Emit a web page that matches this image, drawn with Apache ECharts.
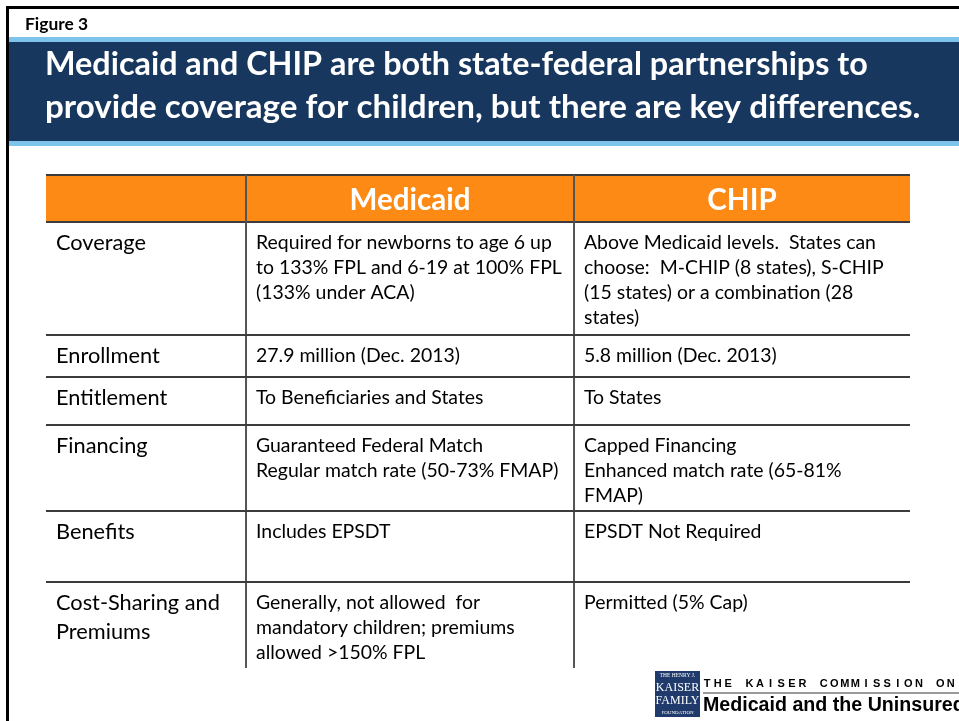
<!DOCTYPE html>
<html>
<head>
<meta charset="utf-8">
<script src="https://cdn.jsdelivr.net/npm/echarts@6/dist/echarts.min.js"></script>
<style>
  html, body { margin: 0; padding: 0; background: #fff; }
  #main { width: 959px; height: 721px; }
</style>
</head>
<body>
<div id="main"></div>
<script>
// slide text
const figureLabel = 'Figure 3';
const titleLines = [
  'Medicaid and CHIP are both state-federal partnerships to',
  'provide coverage for children, but there are key differences.'
];

// table content
const columns = ['Medicaid', 'CHIP'];
const rowLabels = [
  ['Coverage'],
  ['Enrollment'],
  ['Entitlement'],
  ['Financing'],
  ['Benefits'],
  ['Cost-Sharing and', 'Premiums']
];
const medicaidCells = [
  ['Required for newborns to age 6 up', 'to 133% FPL and 6-19 at 100% FPL', '(133% under ACA)'],
  ['27.9 million (Dec. 2013)'],
  ['To Beneficiaries and States'],
  ['Guaranteed Federal Match', 'Regular match rate (50-73% FMAP)'],
  ['Includes EPSDT'],
  ['Generally, not allowed  for', 'mandatory children; premiums', 'allowed >150% FPL']
];
const chipCells = [
  ['Above Medicaid levels.  States can', 'choose:  M-CHIP (8 states), S-CHIP', '(15 states) or a combination (28', 'states)'],
  ['5.8 million (Dec. 2013)'],
  ['To States'],
  ['Capped Financing', 'Enhanced match rate (65-81%', 'FMAP)'],
  ['EPSDT Not Required'],
  ['Permitted (5% Cap)']
];

// source logo
const logoBox = ['THE HENRY J.', 'KAISER', 'FAMILY', 'FOUNDATION'];
const logoLine1 = 'THE KAISER COMMISSION ON';
const logoLine2 = 'Medicaid and the Uninsured';

// layout
const FONT = 'Lato';
const tableLeft = 46, tableRight = 910;
const colX = [46, 246, 574, 910];
const headerTop = 175, headerBottom = 222;
const rowEdges = [222, 335, 377, 425, 511, 582, 668];
const titleWidths = [823, 876];

// size a font so a reference string gets the width it has on the slide
const measureCtx = document.createElement('canvas').getContext('2d');
function fitSize(text, weight, family, width) {
  measureCtx.font = weight + ' 100px ' + family;
  return 100 * width / measureCtx.measureText(text).width;
}

const figureSize = fitSize(figureLabel, 'bold', FONT, 63);
const headSize = fitSize(columns[0], 'bold', FONT, 121);
const labelSize = fitSize(rowLabels[0][0], 'normal', FONT, 90);
const cellSize = fitSize(medicaidCells[0][0], 'normal', FONT, 296);
const logoSize = fitSize(logoLine2, 'bold', 'Liberation Sans', 262);

function txt(x, y, text, size, opts) {
  opts = opts || {};
  return {
    type: 'text',
    x: x,
    y: y,
    z: 10,
    silent: true,
    style: {
      text: text,
      fill: opts.color || '#000',
      fontSize: size,
      fontFamily: opts.family || FONT,
      fontWeight: opts.weight || 'normal',
      textAlign: opts.align || 'left',
      align: opts.align || 'left',
      textVerticalAlign: 'middle',
      verticalAlign: 'middle'
    }
  };
}
function line(x1, y1, x2, y2, color, w) {
  return {
    type: 'line',
    z: 5,
    silent: true,
    shape: { x1: x1, y1: y1, x2: x2, y2: y2 },
    style: { stroke: color, lineWidth: w }
  };
}
function rect(x, y, w, h, color, z) {
  return {
    type: 'rect',
    z: z || 1,
    silent: true,
    shape: { x: x, y: y, width: w, height: h },
    style: { fill: color }
  };
}

const els = [];

// frame and title band
els.push(rect(9, 37, 950, 109, '#7DC4EC'));
els.push(rect(9, 42, 950, 99, '#17375E', 2));
els.push({
  type: 'rect', z: 6, silent: true,
  shape: { x: 7.5, y: 7.5, width: 960, height: 720 },
  style: { fill: 'none', stroke: '#000', lineWidth: 3 }
});
els.push(txt(25, 24, figureLabel, figureSize, { weight: 'bold' }));
titleLines.forEach(function (t, i) {
  const s = fitSize(t, 'bold', FONT, titleWidths[i]);
  els.push(txt(45, 65 + i * 42, t, s, { weight: 'bold', color: '#fff' }));
});

// header row
els.push(rect(tableLeft, headerTop, tableRight - tableLeft, headerBottom - headerTop, '#FD8A15'));
els.push(line(tableLeft, headerTop, tableRight, headerTop, '#3c3c3c', 2));
els.push(line(tableLeft, headerBottom, tableRight, headerBottom, '#3c3c3c', 2));
columns.forEach(function (c, i) {
  els.push(txt((colX[i + 1] + colX[i + 2]) / 2, 200, c, headSize,
    { weight: 'bold', color: '#fff', align: 'center' }));
});

// grid lines
els.push(line(colX[1], headerTop, colX[1], rowEdges[rowEdges.length - 1], '#555', 2));
els.push(line(colX[2], headerTop, colX[2], rowEdges[rowEdges.length - 1], '#555', 2));
for (let r = 1; r < rowEdges.length - 1; r++) {
  els.push(line(tableLeft, rowEdges[r], tableRight, rowEdges[r], '#3c3c3c', 2));
}

// body cells
rowLabels.forEach(function (lab, r) {
  const top = rowEdges[r] + 21;
  lab.forEach(function (t, i) {
    els.push(txt(56, top + i * 29, t, labelSize));
  });
  medicaidCells[r].forEach(function (t, i) {
    els.push(txt(colX[1] + 10, top + i * 25, t, cellSize));
  });
  chipCells[r].forEach(function (t, i) {
    els.push(txt(colX[2] + 10, top + i * 25, t, cellSize));
  });
});

// logo
els.push(rect(655, 671, 45, 46, '#1F3A6B', 3));
els.push(txt(677.5, 676, logoBox[0], 5.5, { family: 'Liberation Serif', color: '#fff', align: 'center' }));
els.push(txt(677.5, 688, logoBox[1], 12, { family: 'Liberation Serif', color: '#fff', align: 'center' }));
els.push(txt(677.5, 701, logoBox[2], 12, { family: 'Liberation Serif', color: '#fff', align: 'center' }));
els.push(txt(677.5, 713, logoBox[3], 5, { family: 'Liberation Serif', color: '#fff', align: 'center' }));
// widely tracked caps, one glyph per slot
logoLine1.split('').forEach(function (ch, i) {
  if (ch !== ' ') {
    els.push(txt(707 + i * 10.6, 684, ch, 11,
      { family: 'Liberation Sans', weight: 'bold', align: 'center' }));
  }
});
els.push(line(703, 693, 959, 693, '#9a9a9a', 2));
els.push(txt(703, 706, logoLine2, logoSize, { family: 'Liberation Sans', weight: 'bold' }));

const chart = echarts.init(document.getElementById('main'), null, { renderer: 'canvas' });
chart.setOption({
  backgroundColor: '#fff',
  animation: false,
  graphic: { elements: els }
});
</script>
</body>
</html>
